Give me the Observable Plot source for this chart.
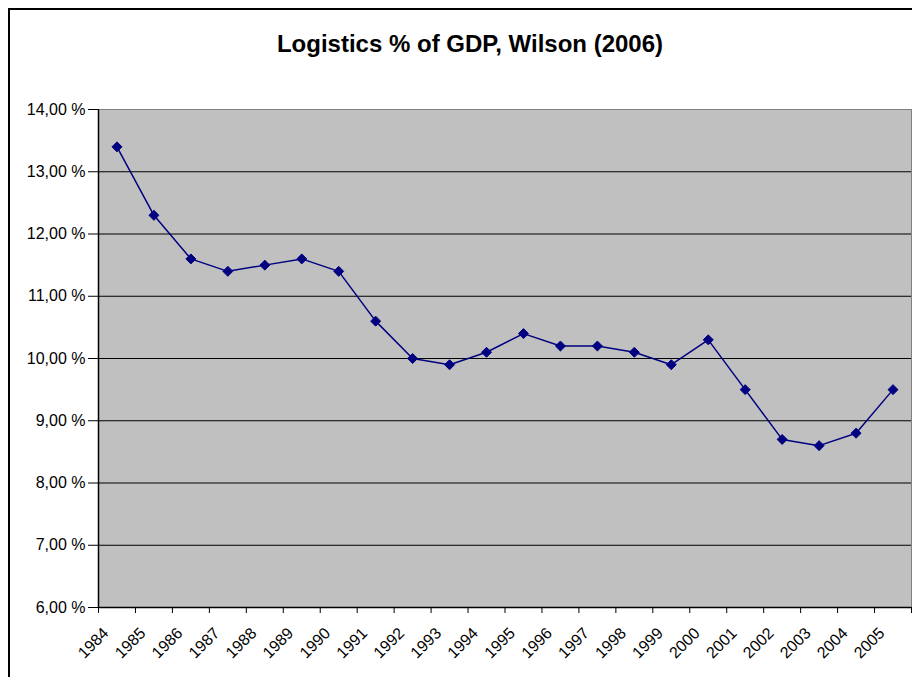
<!DOCTYPE html>
<html>
<head>
<meta charset="utf-8">
<script src="https://cdn.jsdelivr.net/npm/d3@7"></script>
<script src="https://cdn.jsdelivr.net/npm/@observablehq/plot@0.6"></script>
<style>
  html, body { margin: 0; padding: 0; background: #fff; overflow: hidden; }
  #page { position: relative; width: 912px; height: 677px; overflow: hidden; font-family: "Liberation Sans", Arial, sans-serif; }
  #border { position: absolute; left: 8px; top: 8px; width: 1000px; height: 1000px; border: 2px solid #000; pointer-events: none; }
  #title { position: absolute; left: 0; top: 32px; width: 940px; text-align: center; font-size: 24px; line-height: 24px; font-weight: bold; color: #000; }
  #chart { position: absolute; left: 0; top: 90px; }
</style>
</head>
<body>
<div id="page">
  <div id="border"></div>
  <div id="title">Logistics % of GDP, Wilson (2006)</div>
  <div id="chart"></div>
</div>
<script>
const years = [1984, 1985, 1986, 1987, 1988, 1989, 1990, 1991, 1992, 1993, 1994,
               1995, 1996, 1997, 1998, 1999, 2000, 2001, 2002, 2003, 2004, 2005];
const logisticsPct = [13.4, 12.3, 11.6, 11.4, 11.5, 11.6, 11.4, 10.6, 10.0, 9.9, 10.1,
                      10.4, 10.2, 10.2, 10.1, 9.9, 10.3, 9.5, 8.7, 8.6, 8.8, 9.5];
const yTicks = [6, 7, 8, 9, 10, 11, 12, 13, 14];
const gridValues = [7, 8, 9, 10, 11, 12, 13];

const data = years.map((year, i) => ({year, value: logisticsPct[i]}));
const boundaries = [years[0] - 0.5, ...years.map(y => y + 0.5)];
const fmtPct = d => d.toFixed(2).replace(".", ",") + " %";

const chart = Plot.plot({
  width: 912,
  height: 587,
  marginTop: 19,
  marginBottom: 70,
  marginLeft: 98,
  marginRight: 1,
  style: {fontFamily: '"Liberation Sans", Arial, sans-serif', fontSize: "16px", background: "transparent", color: "#000", overflow: "visible"},
  x: {type: "linear", domain: [years[0] - 0.5, years[years.length - 1] + 0.5], label: null},
  y: {domain: [6, 14], label: null},
  marks: [
    Plot.frame({fill: "#c0c0c0", stroke: "#808080", strokeWidth: 1}),
    Plot.ruleY(gridValues, {stroke: "#000", strokeWidth: 1}),
    Plot.ruleY([6], {stroke: "#000", strokeWidth: 1.5}),
    Plot.ruleX([boundaries[0]], {stroke: "#000", strokeWidth: 1.5}),
    Plot.axisY(yTicks, {tickSize: 10, tickPadding: 3, tickFormat: fmtPct, fontSize: 16}),
    Plot.axisX(boundaries, {tickSize: 6, tickFormat: () => null}),
    Plot.axisX(years, {tickSize: 0, tickPadding: 0, rotate: -45, textAnchor: "end", lineAnchor: "middle", dx: -11, dy: 23, tickFormat: d => String(d), fontSize: 16}),
    Plot.line(data, {x: "year", y: "value", stroke: "#000080", strokeWidth: 1.5}),
    Plot.dot(data, {x: "year", y: "value", symbol: "diamond2", r: 4.5, fill: "#000080", stroke: "#000080", strokeWidth: 1})
  ]
});
document.getElementById("chart").appendChild(chart);
</script>
</body>
</html>
